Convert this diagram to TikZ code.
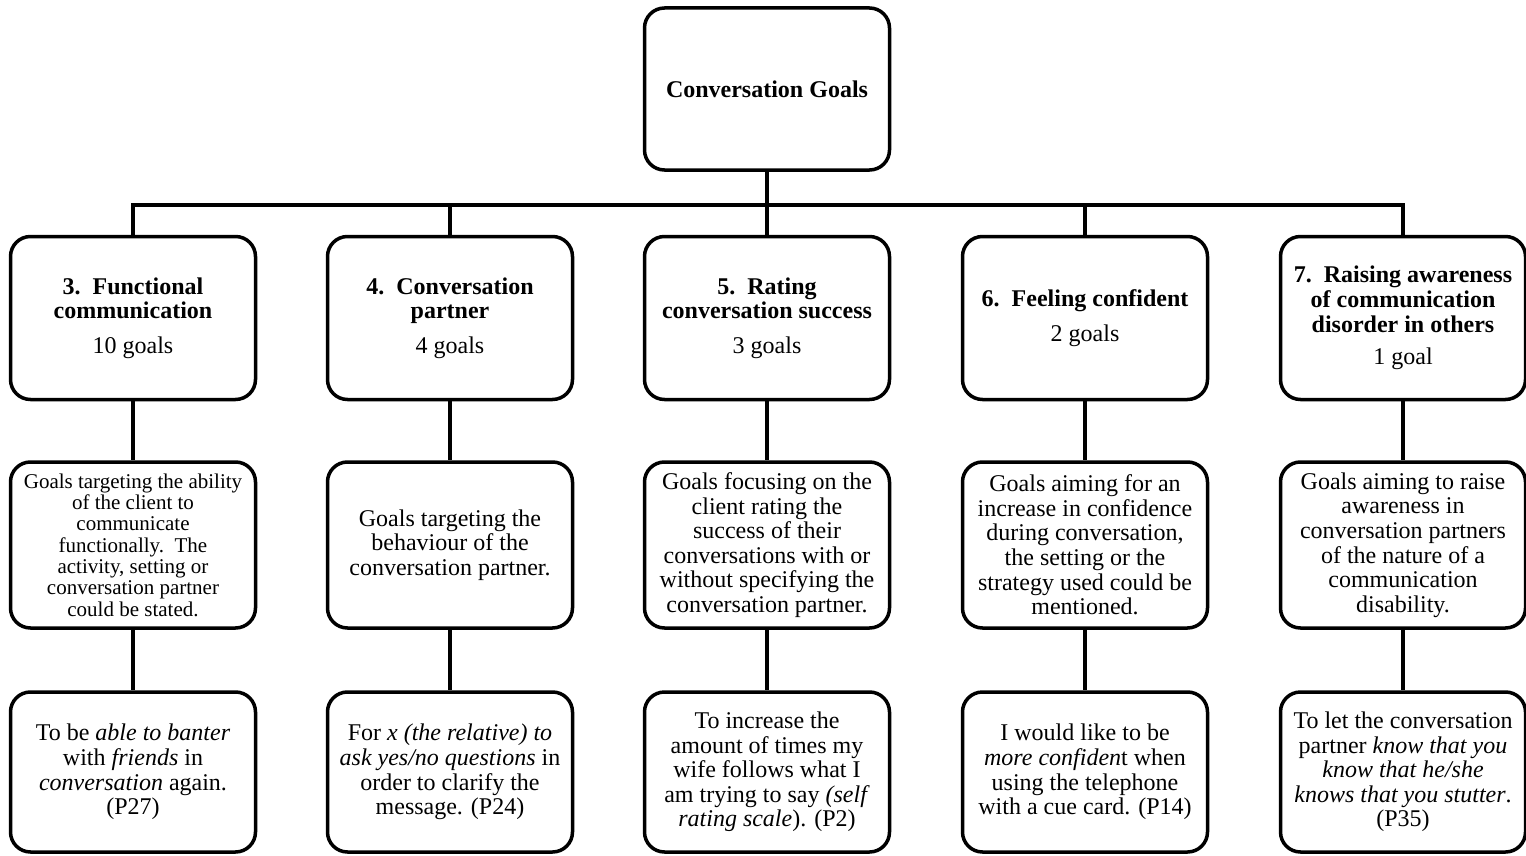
\documentclass[tikz,border=0pt]{standalone}
\usepackage{fontspec}
\setmainfont{Liberation Serif}
\begin{document}
\begin{tikzpicture}[x=1pt,y=-1pt,
  gbox/.style={draw, line width=3.5pt, rounded corners=20pt, minimum width=245pt,
    minimum height=163pt, inner sep=2pt, align=center,
    font=\fontsize{24}{24.6}\selectfont},
  conn/.style={line width=3.5pt}]
\useasboundingbox (0,0) rectangle (1526,856);
\node[gbox, minimum height=162pt] (top) at (767,89) {\textbf{Conversation Goals}};
% level 1
\node[gbox] (a1) at (133,318) {\textbf{3.\ \ Functional}\\\textbf{communication}\\[10pt]10 goals};
\node[gbox] (a2) at (450,318) {\textbf{4.\ \ Conversation}\\\textbf{partner}\\[10pt]4 goals};
\node[gbox] (a3) at (767,318) {\textbf{5.\ \ Rating}\\\textbf{conversation success}\\[10pt]3 goals};
\node[gbox] (a4) at (1085,318) {\textbf{6.\ \ Feeling confident}\\[10pt]2 goals};
\node[gbox] (a5) at (1403,318) {\textbf{7.\ \ Raising awareness}\\\textbf{of communication}\\\textbf{disorder in others}\\[8pt]1 goal};
% level 2
\node[gbox, minimum height=166pt, font=\fontsize{21}{21.3}\selectfont] (b1) at (133,545) {Goals targeting the ability\\of the client to\\communicate\\functionally.\ \ The\\activity, setting or\\conversation partner\\could be stated.};
\node[gbox, minimum height=166pt] (b2) at (450,545) {Goals targeting the\\behaviour of the\\conversation partner.};
\node[gbox, minimum height=166pt] (b3) at (767,545) {Goals focusing on the\\client rating the\\success of their\\conversations with or\\without specifying the\\conversation partner.};
\node[gbox, minimum height=166pt] (b4) at (1085,545) {Goals aiming for an\\increase in confidence\\during conversation,\\the setting or the\\strategy used could be\\mentioned.};
\node[gbox, minimum height=166pt] (b5) at (1403,545) {Goals aiming to raise\\awareness in\\conversation partners\\of the nature of a\\communication\\disability.};
% level 3
\node[gbox, minimum height=160pt] (c1) at (133,772) {To be \textit{able to banter}\\with \textit{friends} in\\\textit{conversation} again.\\(P27)};
\node[gbox, minimum height=160pt] (c2) at (450,772) {For \textit{x (the relative) to}\\\textit{ask yes/no questions} in\\order to clarify the\\message. (P24)};
\node[gbox, minimum height=160pt] (c3) at (767,772) {To increase the\\amount of times my\\wife follows what I\\am trying to say \textit{(self}\\\textit{rating scale}). (P2)};
\node[gbox, minimum height=160pt] (c4) at (1085,772) {I would like to be\\\textit{more confiden}t when\\using the telephone\\with a cue card. (P14)};
\node[gbox, minimum height=160pt] (c5) at (1403,772) {To let the conversation\\partner \textit{know that you}\\\textit{know that he/she}\\\textit{knows that you stutter}.\\(P35)};
% connectors
\coordinate (j) at (767,205);
\draw[conn] (top.south) -- (j);
\foreach \i in {1,...,5}{
  \draw[conn] (j) -| (a\i.north);
  \draw[conn] (a\i.south) -- (b\i.north);
  \draw[conn] (b\i.south) -- (c\i.north);
}
\end{tikzpicture}
\end{document}
